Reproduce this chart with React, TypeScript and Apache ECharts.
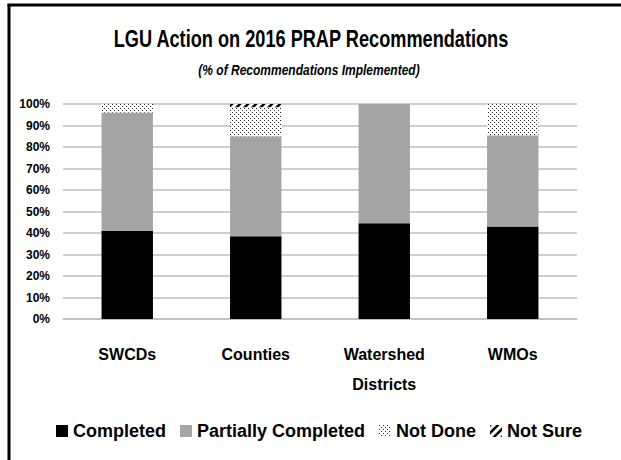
import React, { useEffect, useRef } from "react";
import * as echarts from "echarts";

const categories = ["SWCDs", "Counties", "Watershed\nDistricts", "WMOs"];
const completed = [41, 38.5, 44.5, 43];
const partiallyCompleted = [55, 46.5, 55.5, 42.5];
const notDone = [4, 13.5, 0, 14.5];
const notSure = [0, 1.5, 0, 0];
const yTicks = [0, 10, 20, 30, 40, 50, 60, 70, 80, 90, 100];

const FONT = "'Liberation Sans', Arial, sans-serif";

function makeDots(): string {
  const c = document.createElement("canvas");
  c.width = 4;
  c.height = 4;
  const g = c.getContext("2d")!;
  g.fillStyle = "#ffffff";
  g.fillRect(0, 0, 4, 4);
  g.fillStyle = "#222222";
  g.fillRect(0, 0, 1, 1);
  g.fillRect(2, 2, 1, 1);
  return c.toDataURL();
}

function makeHatch(): string {
  const c = document.createElement("canvas");
  c.width = 8;
  c.height = 8;
  const g = c.getContext("2d")!;
  g.fillStyle = "#ffffff";
  g.fillRect(0, 0, 8, 8);
  g.strokeStyle = "#000000";
  g.lineWidth = 2.5;
  g.beginPath();
  g.moveTo(-2, 10);
  g.lineTo(10, -2);
  g.moveTo(-6, 6);
  g.lineTo(6, -6);
  g.moveTo(2, 14);
  g.lineTo(14, 2);
  g.stroke();
  return c.toDataURL();
}

export default function App() {
  const ref = useRef<HTMLDivElement>(null);
  useEffect(() => {
    if (!ref.current) return;
    const chart = echarts.init(ref.current, null, { renderer: "svg" });
    const dots = { image: makeDots(), repeat: "repeat", imageWidth: 4, imageHeight: 4 } as any;
    const hatch = { image: makeHatch(), repeat: "repeat", imageWidth: 8, imageHeight: 8 } as any;
    const mk = (name: string, data: number[], color: any) => ({
      name,
      type: "bar",
      stack: "total",
      barWidth: "40%",
      data,
      itemStyle: { color },
    });
    chart.setOption({
      animation: false,
      backgroundColor: "#ffffff",
      grid: { left: 63, right: 44, top: 104, bottom: 141 },
      legend: {
        bottom: 15,
        left: 51,
        itemWidth: 12,
        itemHeight: 12,
        itemGap: 14,
        icon: "rect",
        textStyle: { fontFamily: FONT, fontWeight: "bold", fontSize: 18, color: "#000" },
        data: ["Completed", "Partially Completed", "Not Done", "Not Sure"],
      },
      xAxis: {
        type: "category",
        data: categories,
        axisLine: { show: true, lineStyle: { color: "#bfbfbf", width: 1.5 } },
        axisTick: { show: false },
        axisLabel: {
          margin: 20,
          fontFamily: FONT,
          fontWeight: "bold",
          fontSize: 16,
          color: "#000",
          lineHeight: 30,
          verticalAlign: "top",
        },
      },
      yAxis: {
        type: "value",
        min: yTicks[0],
        max: yTicks[yTicks.length - 1],
        interval: 10,
        axisLine: { show: false },
        axisTick: { show: false },
        splitLine: { lineStyle: { color: "#bfbfbf", width: 1.5 } },
        axisLabel: {
          margin: 13,
          formatter: "{value}%",
          fontFamily: FONT,
          fontWeight: "bold",
          fontSize: 12,
          color: "#000",
        },
      },
      series: [
        mk("Completed", completed, "#000000"),
        mk("Partially Completed", partiallyCompleted, "#a5a5a5"),
        mk("Not Done", notDone, dots),
        mk("Not Sure", notSure, hatch),
      ],
      graphic: [
        {
          type: "text",
          x: 311,
          y: 39,
          scaleX: 0.79,
          style: {
            text: "LGU Action on 2016 PRAP Recommendations",
            fontFamily: FONT,
            fontWeight: "bold",
            fontSize: 23,
            fill: "#000",
            align: "center",
            verticalAlign: "middle",
          },
        },
        {
          type: "text",
          x: 309,
          y: 70,
          scaleX: 0.8,
          style: {
            text: "(% of Recommendations Implemented)",
            fontFamily: FONT,
            fontWeight: "bold",
            fontStyle: "italic",
            fontSize: 15,
            fill: "#000",
            align: "center",
            verticalAlign: "middle",
          },
        },
        { type: "line", shape: { x1: 9, y1: 4, x2: 9, y2: 460 }, style: { stroke: "#000", lineWidth: 3 } },
        { type: "line", shape: { x1: 7.5, y1: 5, x2: 621, y2: 5 }, style: { stroke: "#000", lineWidth: 3 } },
      ],
    });
    return () => chart.dispose();
  }, []);
  return <div ref={ref} style={{ position: "fixed", left: 0, top: 0, width: 621, height: 460 }} />;
}
